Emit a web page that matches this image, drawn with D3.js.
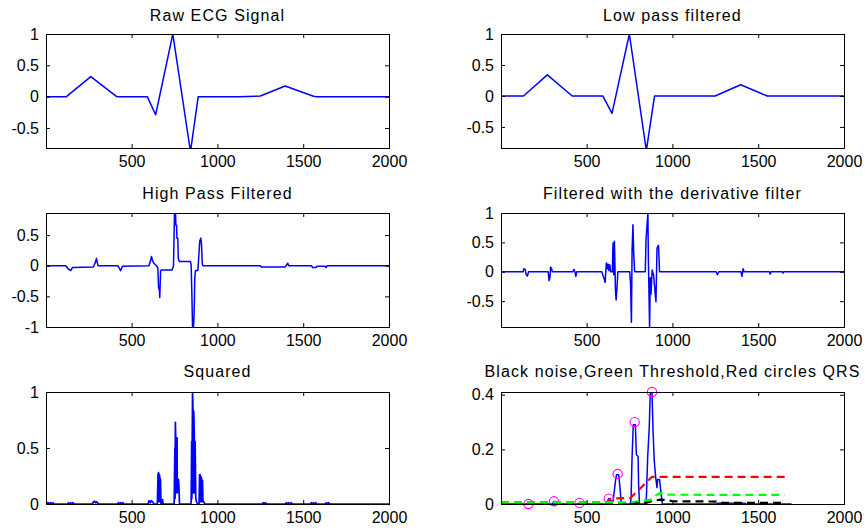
<!DOCTYPE html>
<html><head><meta charset="utf-8">
<script src="https://cdn.jsdelivr.net/npm/d3@7"></script>
<style>
body{margin:0;background:#fff}
svg text{font-family:Arial,"Liberation Sans",Helvetica,sans-serif;fill:#000}
</style>
</head><body>
<svg id="chart" width="865" height="532"></svg>
<script>
// ---------- data ----------
const xDomain = [1, 2000];
const xTicks = [500, 1000, 1500, 2000];
const panelTitles = ["Raw ECG Signal", "Low pass filtered", "High Pass Filtered",
  "Filtered with the derivative filter", "Squared", "Black noise,Green Threshold,Red circles QRS"];

const rawEcg = [[1,0],[120,0],[262,0.32],[413,0],[591,0],[640,-0.29],[740,1.0],[843,-0.88],[888,0],[1124,0],[1250,0.01],[1395,0.17],[1560,0.005],[1580,0],[2000,0]];
const lowPassEcg = [[1,0],[132,0],[271,0.34],[416,0],[594,0],[648,-0.28],[749,1.0],[848,-0.88],[896,0],[1249,0],[1398,0.18],[1552,0],[2000,0]];
const highPassEcg = [[1,0],[116,0],[130,-0.05],[145,-0.08],[155,-0.03],[277,-0.02],[288,0.05],[295,0.12],[300,0.05],[304,0],[420,0],[430,-0.05],[436,-0.08],[446,-0.01],[601,0],[610,0.08],[616,0.15],[620,0.1],[624,0.07],[630,0.04],[645,0],[653,-0.04],[657,-0.36],[662,-0.4],[664,-0.52],[669,-0.08],[676,-0.07],[736,-0.07],[744,0],[750,0.86],[756,0.86],[758,0.66],[762,0.66],[764,0.45],[769,0.45],[772,0.12],[778,0.07],[843,0.07],[847,0],[851,-0.45],[855,-1.0],[860,-1.0],[862,-0.95],[866,-0.56],[868,-0.2],[872,-0.08],[886,-0.08],[892,0.18],[897,0.4],[903,0.45],[907,0.36],[912,0.02],[916,0],[1250,0],[1256,-0.02],[1395,-0.02],[1405,0.02],[1410,0.04],[1416,0],[1548,0],[1555,-0.03],[1575,-0.03],[1580,-0.01],[1628,-0.01],[1633,-0.03],[1640,0],[2000,0]];
const derivativeEcg = [[1,0],[130,0],[135,0.05],[142,0.04],[148,-0.05],[155,-0.07],[162,0],[276,0],[281,-0.15],[286,-0.1],[290,0.08],[296,0.05],[300,0],[420,0],[426,0.04],[432,0],[437,-0.08],[443,0],[588,0],[600,-0.1],[608,-0.18],[612,0.02],[615,0.15],[620,0.05],[625,0.13],[630,0.02],[635,0.12],[640,0],[650,0],[654,0.49],[658,-0.05],[662,0.52],[668,-0.31],[672,-0.48],[678,-0.23],[682,0],[751,0],[756,-0.2],[761,-0.86],[765,0.37],[770,0.8],[774,0.34],[780,0],[842,0],[846,0.54],[850,0.7],[857,1.0],[860,0.2],[867,-0.93],[871,-0.1],[875,-0.38],[882,0.03],[890,-0.05],[896,-0.25],[904,-0.51],[907,-0.1],[910,0.4],[919,0.45],[925,0],[1255,0],[1262,-0.05],[1270,0],[1400,0],[1405,-0.08],[1412,0.05],[1418,0],[1565,0],[1570,-0.04],[1575,0],[1640,0],[1645,-0.02],[1650,0],[2000,0]];
const squaredEcg = [[1,0],[10,0.012],[14,0],[18,0.012],[24,0],[30,0.012],[36,0],[42,0.01],[48,0],
  [126,0],[132,0.012],[138,0],[144,0.012],[150,0],[156,0.012],[165,0],
  [271,0],[278,0.02],[284,0.025],[290,0.01],[296,0.02],[302,0.008],[310,0],
  [417,0],[424,0.012],[430,0],[436,0.012],[442,0],[448,0.012],[455,0],
  [595,0],[601,0.03],[608,0.01],[615,0.03],[622,0.02],[630,0],
  [650,0],[654,0.27],[655,0.03],[657,0.28],[659,0.26],[660,0.02],[662,0.26],[665,0.23],[666,0.02],[668,0.22],[671,0],[676,0],[680,0.04],[684,0],
  [748,0],[752,0.5],[753,0.05],[755,0.73],[757,0.6],[758,0.1],[761,0.59],[765,0.59],[766,0.1],[769,0.22],[773,0.22],[776,0.15],[779,0],[783,0],
  [845,0],[847,0.02],[850,0.56],[851,0.05],[855,1.0],[858,0.83],[859,0.1],[862,0.83],[866,0.56],[867,0.1],[870,0.56],[874,0.05],[878,0.02],[884,0],
  [893,0],[896,0.26],[897,0.02],[899,0.26],[903,0.24],[904,0.02],[906,0.24],[910,0.21],[911,0.02],[913,0.21],[916,0.02],[921,0.02],[926,0],
  [1260,0],[1266,0.012],[1272,0],[1278,0.012],[1289,0],
  [1395,0],[1402,0.012],[1408,0],[1414,0.012],[1420,0],[1428,0.012],[1440,0],
  [1541,0],[1548,0.012],[1554,0],[1560,0.012],[1566,0],[1572,0.012],[1580,0],
  [1628,0],[1634,0.012],[1640,0],[1646,0.012],[1657,0],[2000,0]];
const integratedEcg = [[1,0],[150,0],[161,0.002],[172,0],[300,0],[310,0.01],[320,0],[450,0],[459,0.004],[468,0],[612,0],[622,0.01],[629,0.02],[638,0.012],[648,0.012],[654,0.01],[668,0.083],[674,0.107],[687,0.107],[693,0.07],[701,0.01],[706,0],[755,0],[759,0.02],[765,0.174],[772,0.29],[784,0.29],[790,0.18],[800,0.174],[803,0.07],[808,0],[844,0],[848,0.02],[856,0.174],[865,0.28],[871,0.41],[881,0.41],[887,0.27],[894,0.16],[902,0.1],[910,0.06],[914,0.09],[925,0.09],[930,0.06],[941,0],[1255,0],[1260,0.003],[1420,0.003],[1430,0],[1694,0]];
const qrsX = [161, 310, 459, 629, 681, 780, 881];
const qrsY = [0, 0.01, 0.004, 0.02, 0.11, 0.30, 0.41];
const noiseLevel = [[1,0.001],[735,0.002],[850,0.005],[890,0.012],[930,0.016],[975,0.014],[1000,0.01],[1255,0.009],[1265,0.004],[1655,0.004]];
const signalLevel = [[1,0.006],[620,0.006],[639,0.02],[755,0.022],[880,0.099],[1655,0.099]];
const thresholdLevel = [[1,0.006],[755,0.006],[794,0.01],[871,0.015],[910,0.034],[929,0.04],[968,0.034],[1655,0.033]];

const yTicksA = [-0.5, 0, 0.5, 1];
const yTicksB = [-1, -0.5, 0, 0.5];
const yTicksC = [0, 0.5, 1];
const yTicksD = [0, 0.2, 0.4];

// ---------- layout ----------
const cols = [[46, 389], [501, 844]];
const rows = [[34, 148], [213, 327], [392, 504]];
const titleBase = [20.7, 198.5, 376.7];

const panels = [
  {c:0, r:0, title:panelTitles[0], yDomain:[-0.82, 1], yTicks:yTicksA, series:[{d:rawEcg}]},
  {c:1, r:0, title:panelTitles[1], yDomain:[-0.84, 1], yTicks:yTicksA, series:[{d:lowPassEcg}]},
  {c:0, r:1, title:panelTitles[2], yDomain:[-1, 0.86], yTicks:yTicksB, series:[{d:highPassEcg}]},
  {c:1, r:1, title:panelTitles[3], yDomain:[-0.94, 1], yTicks:yTicksA, series:[{d:derivativeEcg}]},
  {c:0, r:2, title:panelTitles[4], yDomain:[0, 1], yTicks:yTicksC, series:[{d:squaredEcg, w:1.7}]},
  {c:1, r:2, title:panelTitles[5], yDomain:[0, 0.41], yTicks:yTicksD, series:[
     {d:integratedEcg}, {circles:true}, {d:noiseLevel, color:"#000000", dash:true},
     {d:signalLevel, color:"#ff0000", dash:true}, {d:thresholdLevel, color:"#00ff00", dash:true}]}
];

const svg = d3.select("#chart");
const fmt = d => String(d);

panels.forEach((p, i) => {
  const [x0, x1] = cols[p.c], [y0, y1] = rows[p.r];
  const x = d3.scaleLinear().domain(xDomain).range([x0, x1]);
  const y = d3.scaleLinear().domain(p.yDomain).range([y1, y0]);
  const g = svg.append("g");

  const clipId = "clip" + i;
  svg.append("clipPath").attr("id", clipId).append("rect")
    .attr("x", x0).attr("y", y0).attr("width", x1 - x0).attr("height", y1 - y0);

  const line = d3.line().x(d => x(d[0])).y(d => y(d[1]));
  const plot = g.append("g");
  p.series.forEach(s => {
    if (s.circles) {
      plot.selectAll("circle.q").data(qrsX.map((v, k) => [v, qrsY[k]])).join("circle")
        .attr("class", "q").attr("cx", d => x(d[0])).attr("cy", d => y(d[1])).attr("r", 4.6)
        .attr("fill", "none").attr("stroke", "#ff00ff").attr("stroke-width", 1.1);
    } else {
      plot.append("path").datum(s.d).attr("d", line)
        .attr("clip-path", `url(#${clipId})`)
        .attr("fill", "none").attr("stroke", s.color || "#0000ff")
        .attr("stroke-width", s.dash ? 2.2 : (s.w || 1.5))
        .attr("stroke-dasharray", s.dash ? "8,5" : null)
        .attr("stroke-linejoin", "round");
    }
  });

  const style = sel => {
    sel.select(".domain").remove();
    sel.selectAll(".tick line").attr("stroke", "#000").attr("stroke-width", 1);
    sel.selectAll(".tick text").attr("font-size", 16).attr("fill", "#000")
      .attr("font-family", "Arial, 'Liberation Sans', sans-serif");
    sel.attr("font-family", null).attr("font-size", null);
  };
  g.append("g").attr("transform", `translate(0,${y1})`)
    .call(d3.axisBottom(x).tickValues(xTicks).tickSize(-4).tickPadding(7.6).tickFormat(fmt)).call(style);
  g.append("g").attr("transform", `translate(0,${y0})`)
    .call(d3.axisTop(x).tickValues(xTicks).tickSize(-4).tickFormat(() => "")).call(style);
  g.append("g").attr("transform", `translate(${x0},0)`)
    .call(d3.axisLeft(y).tickValues(p.yTicks).tickSize(-4).tickPadding(7).tickFormat(fmt)).call(style);
  g.append("g").attr("transform", `translate(${x1},0)`)
    .call(d3.axisRight(y).tickValues(p.yTicks).tickSize(-4).tickFormat(() => "")).call(style);

  g.append("rect").attr("x", x0 + 0.5).attr("y", y0 + 0.5)
    .attr("width", x1 - x0).attr("height", y1 - y0)
    .attr("fill", "none").attr("stroke", "#000").attr("stroke-width", 1);

  g.append("text").attr("x", (x0 + x1) / 2).attr("y", titleBase[p.r])
    .attr("text-anchor", "middle").attr("font-size", 16).attr("letter-spacing", 1.1)
    .text(p.title);
});
</script>
</body></html>
